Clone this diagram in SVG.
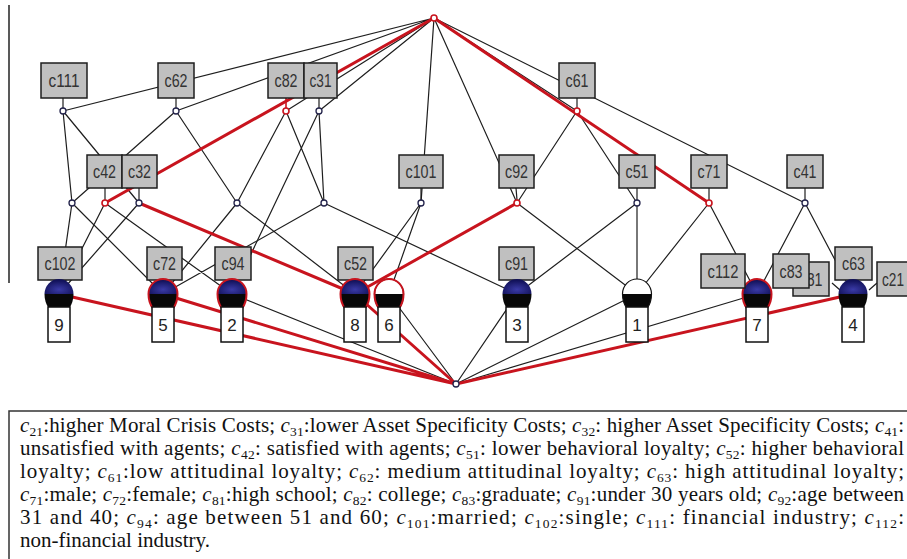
<svg xmlns="http://www.w3.org/2000/svg" xmlns:xlink="http://www.w3.org/1999/xlink" width="907" height="559" viewBox="0 0 907 559">
<style>
.e{stroke:#1e1e1e;stroke-width:1.2;fill:none}
.r{stroke:#c8141e;stroke-width:3;fill:none;stroke-linecap:round}
.lb rect{fill:#c0c0c0;stroke:#1e1e1e;stroke-width:1.5}
.lb text{font-family:"Liberation Sans",Arial,sans-serif;font-size:18px;fill:#333;text-anchor:middle}
.tk{stroke:#1e1e1e;stroke-width:1.2}
.tkr{stroke:#c8141e;stroke-width:1.6}
.sn{fill:#fff;stroke:#22224a;stroke-width:1.3}
.snr{fill:#fff;stroke:#c8141e;stroke-width:1.6}
.nb rect{fill:#fff;stroke:#111;stroke-width:1.5}
.nb text{font-family:"Liberation Sans",Arial,sans-serif;font-size:17px;fill:#222;text-anchor:middle}
.ro{fill:none;stroke:#c8141e;stroke-width:2}
.cap{font-family:"Liberation Serif","Times New Roman",serif;font-size:21px;fill:#111}
.ci{font-style:italic}
.sb{font-size:13.5px}
</style>
<defs>
<radialGradient id="bl" cx="50%" cy="70%" r="60%">
<stop offset="0" stop-color="#3a3aa6"/>
<stop offset="1" stop-color="#12125a"/>
</radialGradient>
<g id="objB">
<path d="M-14.5,0 A14.5,15 0 0 1 14.5,0 Z" fill="url(#bl)"/>
<path d="M-14.5,0 A14.5,20 0 0 0 14.5,0 Z" fill="#080808"/>
</g>
<g id="objW">
<path d="M-14.5,0 A14.5,15 0 0 1 14.5,0 Z" fill="#fff"/>
<path d="M-14.5,0 A14.5,20 0 0 0 14.5,0 Z" fill="#080808"/>
<path d="M-14.5,0 A14.5,15 0 0 1 14.5,0 A14.5,20 0 0 1 -14.5,0 Z" fill="none" stroke="#111" stroke-width="1.2"/>
</g>
<path id="ring" d="M-14.5,0 A14.5,15 0 0 1 14.5,0 A14.5,20 0 0 1 -14.5,0 Z"/>
</defs>
<rect width="907" height="559" fill="#fff"/>
<line x1="9" y1="5" x2="9" y2="283" stroke="#222" stroke-width="1.5"/>
<g id="connectors">
<path class="e" d="M434,18 L63,111 M434,18 L176,111 M434,18 L286,111 M434,18 L319,111 M434,18 L577,111 M434,18 L421,203 M434,18 L517,203 M434,18 L805,203"/>
<path class="e" d="M63,111 L72,203 M63,111 L139,203 M176,111 L72,203 M176,111 L237,203 M286,111 L237,203 M286,111 L324,203 M319,111 L324,203 M319,111 L232,294 M577,111 L517,203 M577,111 L637,203"/>
<path class="e" d="M72,203 L59,294 M72,203 L163,294 M105,203 L59,294 M105,203 L232,294 M139,203 L59,294 M237,203 L163,294 M237,203 L355,294 M324,203 L163,294 M324,203 L517,294 M421,203 L355,294 M421,203 L389,294 M517,203 L637,294 M637,203 L637,294 M637,203 L517,294 M709,203 L637,294 M709,203 L757,294 M805,203 L757,294 M805,203 L853,294"/>
<path class="e" d="M232,294 L456,384 M389,294 L456,384 M517,294 L456,384 M637,294 L456,384 M757,294 L456,384"/>
<path class="e" d="M832,283 L840,290 M877,283 L869,290"/>
<path class="r" d="M434,18 L105,203 M434,18 L709,203 M139,203 L355,294 M517,203 L355,294 M59,294 L456,384 M163,294 L456,384 M355,294 L456,384 M853,294 L456,384"/>
</g>
<g id="top"><circle class="snr" cx="434" cy="18" r="3"/></g>
<g id="bottom"><circle class="sn" cx="456" cy="384" r="3"/></g>
<g id="node-c111" class="lb"><line class="tk" x1="63" y1="98" x2="63" y2="108"/><circle class="sn" cx="63" cy="111" r="3"/><rect x="41" y="63" width="46" height="35"/><text x="64" y="87" textLength="31" lengthAdjust="spacingAndGlyphs">c111</text></g>
<g id="node-c62" class="lb"><line class="tk" x1="176" y1="98" x2="176" y2="108"/><circle class="sn" cx="176" cy="111" r="3"/><rect x="158" y="63" width="36" height="35"/><text x="176" y="87" textLength="23" lengthAdjust="spacingAndGlyphs">c62</text></g>
<g id="node-c82" class="lb"><line class="tkr" x1="286" y1="98" x2="286" y2="108"/><circle class="snr" cx="286" cy="111" r="3"/><rect x="268" y="63" width="36" height="35"/><text x="286" y="87" textLength="23" lengthAdjust="spacingAndGlyphs">c82</text></g>
<g id="node-c31" class="lb"><line class="tk" x1="319" y1="98" x2="319" y2="108"/><circle class="sn" cx="319" cy="111" r="3"/><rect x="304" y="63" width="33" height="35"/><text x="320.5" y="87" textLength="22" lengthAdjust="spacingAndGlyphs">c31</text></g>
<g id="node-c61" class="lb"><line class="tk" x1="577" y1="98" x2="577" y2="108"/><circle class="snr" cx="577" cy="111" r="3"/><rect x="559" y="63" width="36" height="35"/><text x="577" y="87" textLength="23" lengthAdjust="spacingAndGlyphs">c61</text></g>
<g id="node-b1"><circle class="sn" cx="72" cy="203" r="3"/></g>
<g id="node-c42" class="lb"><line class="tk" x1="105" y1="188" x2="105" y2="200"/><circle class="snr" cx="105" cy="203" r="3"/><rect x="87" y="155" width="35" height="33"/><text x="104.5" y="178" textLength="23" lengthAdjust="spacingAndGlyphs">c42</text></g>
<g id="node-c32" class="lb"><line class="tk" x1="139" y1="188" x2="139" y2="200"/><circle class="sn" cx="139" cy="203" r="3"/><rect x="122" y="155" width="35" height="33"/><text x="139.5" y="178" textLength="23" lengthAdjust="spacingAndGlyphs">c32</text></g>
<g id="node-b4"><circle class="sn" cx="237" cy="203" r="3"/></g>
<g id="node-b5"><circle class="sn" cx="324" cy="203" r="3"/></g>
<g id="node-c101" class="lb"><line class="tk" x1="421" y1="188" x2="421" y2="200"/><circle class="sn" cx="421" cy="203" r="3"/><rect x="399" y="155" width="44" height="33"/><text x="421" y="178" textLength="31" lengthAdjust="spacingAndGlyphs">c101</text></g>
<g id="node-c92" class="lb"><line class="tk" x1="516" y1="188" x2="517" y2="200"/><circle class="snr" cx="517" cy="203" r="3"/><rect x="499" y="155" width="35" height="33"/><text x="516.5" y="178" textLength="23" lengthAdjust="spacingAndGlyphs">c92</text></g>
<g id="node-c51" class="lb"><line class="tk" x1="637" y1="188" x2="637" y2="200"/><circle class="sn" cx="637" cy="203" r="3"/><rect x="619" y="155" width="36" height="33"/><text x="637" y="178" textLength="23" lengthAdjust="spacingAndGlyphs">c51</text></g>
<g id="node-c71" class="lb"><line class="tk" x1="709" y1="188" x2="709" y2="200"/><circle class="snr" cx="709" cy="203" r="3"/><rect x="691" y="155" width="36" height="33"/><text x="709" y="178" textLength="23" lengthAdjust="spacingAndGlyphs">c71</text></g>
<g id="node-c41" class="lb"><line class="tk" x1="805" y1="188" x2="805" y2="200"/><circle class="sn" cx="805" cy="203" r="3"/><rect x="787" y="155" width="36" height="33"/><text x="805" y="178" textLength="23" lengthAdjust="spacingAndGlyphs">c41</text></g>
<g id="obj-9"><g class="lb"><rect x="38" y="247" width="44" height="33"/><text x="60" y="270" textLength="31" lengthAdjust="spacingAndGlyphs">c102</text></g><use xlink:href="#objB" x="59" y="294"/><g class="nb"><rect x="48" y="307" width="22" height="35"/><text x="59" y="331">9</text></g></g>
<g id="obj-5"><g class="lb"><rect x="147" y="247" width="35" height="33"/><text x="164.5" y="270" textLength="23" lengthAdjust="spacingAndGlyphs">c72</text></g><use xlink:href="#objB" x="163" y="294"/><use xlink:href="#ring" x="163" y="294" class="ro"/><g class="nb"><rect x="152" y="307" width="22" height="35"/><text x="163" y="331">5</text></g></g>
<g id="obj-2"><g class="lb"><rect x="215" y="247" width="36" height="33"/><text x="233" y="270" textLength="23" lengthAdjust="spacingAndGlyphs">c94</text></g><use xlink:href="#objB" x="232" y="294"/><use xlink:href="#ring" x="232" y="294" class="ro"/><g class="nb"><rect x="221" y="307" width="22" height="35"/><text x="232" y="331">2</text></g></g>
<g id="obj-8"><g class="lb"><rect x="338" y="247" width="35" height="33"/><text x="355.5" y="270" textLength="23" lengthAdjust="spacingAndGlyphs">c52</text></g><use xlink:href="#objB" x="355" y="294"/><use xlink:href="#ring" x="355" y="294" class="ro"/><g class="nb"><rect x="344" y="307" width="22" height="35"/><text x="355" y="331">8</text></g></g>
<g id="obj-6"><use xlink:href="#objW" x="389" y="294"/><use xlink:href="#ring" x="389" y="294" class="ro"/><g class="nb"><rect x="378" y="307" width="22" height="35"/><text x="389" y="331">6</text></g></g>
<g id="obj-3"><g class="lb"><rect x="499" y="247" width="35" height="33"/><text x="516.5" y="270" textLength="23" lengthAdjust="spacingAndGlyphs">c91</text></g><use xlink:href="#objB" x="517" y="294"/><g class="nb"><rect x="506" y="307" width="22" height="35"/><text x="517" y="331">3</text></g></g>
<g id="obj-1"><use xlink:href="#objW" x="637" y="294"/><g class="nb"><rect x="626" y="307" width="22" height="35"/><text x="637" y="331">1</text></g></g>
<g id="obj-7"><use xlink:href="#objB" x="757" y="294"/><use xlink:href="#ring" x="757" y="294" class="ro"/><g class="lb"><rect x="701" y="254" width="44" height="34"/><text x="723" y="277.5" textLength="31" lengthAdjust="spacingAndGlyphs">c112</text></g><g class="lb"><rect x="793" y="262" width="36" height="34"/><text x="811" y="285.5" textLength="23" lengthAdjust="spacingAndGlyphs">c81</text></g><g class="lb"><rect x="773" y="254" width="36" height="34"/><text x="791" y="277.5" textLength="23" lengthAdjust="spacingAndGlyphs">c83</text></g><g class="nb"><rect x="746" y="307" width="22" height="35"/><text x="757" y="331">7</text></g></g>
<g id="obj-4"><g class="lb"><rect x="835" y="247" width="37" height="33"/><text x="853.5" y="270" textLength="23" lengthAdjust="spacingAndGlyphs">c63</text></g><g class="lb"><rect x="877" y="262" width="40" height="34"/><text x="893" y="285.5" textLength="22" lengthAdjust="spacingAndGlyphs">c21</text></g><use xlink:href="#objB" x="853" y="294"/><g class="nb"><rect x="842" y="307" width="22" height="35"/><text x="853" y="331">4</text></g></g>
<g id="caption">
<rect x="9" y="411" width="910" height="170" fill="#fff" stroke="#333" stroke-width="1.5"/>
<text class="cap" x="20" y="432" textLength="884" lengthAdjust="spacing"><tspan class="ci">c</tspan><tspan class="sb" dy="4">21</tspan><tspan dy="-4">:higher Moral Crisis Costs; </tspan><tspan class="ci">c</tspan><tspan class="sb" dy="4">31</tspan><tspan dy="-4">:lower Asset Specificity Costs; </tspan><tspan class="ci">c</tspan><tspan class="sb" dy="4">32</tspan><tspan dy="-4">: higher Asset Specificity Costs; </tspan><tspan class="ci">c</tspan><tspan class="sb" dy="4">41</tspan><tspan dy="-4">:</tspan></text>
<text class="cap" x="20" y="455" textLength="884" lengthAdjust="spacing">unsatisfied with agents; <tspan class="ci">c</tspan><tspan class="sb" dy="4">42</tspan><tspan dy="-4">: satisfied with agents; </tspan><tspan class="ci">c</tspan><tspan class="sb" dy="4">51</tspan><tspan dy="-4">: lower behavioral loyalty; </tspan><tspan class="ci">c</tspan><tspan class="sb" dy="4">52</tspan><tspan dy="-4">: higher behavioral</tspan></text>
<text class="cap" x="20" y="478" textLength="884" lengthAdjust="spacing">loyalty; <tspan class="ci">c</tspan><tspan class="sb" dy="4">61</tspan><tspan dy="-4">:low attitudinal loyalty; </tspan><tspan class="ci">c</tspan><tspan class="sb" dy="4">62</tspan><tspan dy="-4">: medium attitudinal loyalty; </tspan><tspan class="ci">c</tspan><tspan class="sb" dy="4">63</tspan><tspan dy="-4">: high attitudinal loyalty;</tspan></text>
<text class="cap" x="20" y="501" textLength="884" lengthAdjust="spacing"><tspan class="ci">c</tspan><tspan class="sb" dy="4">71</tspan><tspan dy="-4">:male; </tspan><tspan class="ci">c</tspan><tspan class="sb" dy="4">72</tspan><tspan dy="-4">:female; </tspan><tspan class="ci">c</tspan><tspan class="sb" dy="4">81</tspan><tspan dy="-4">:high school; </tspan><tspan class="ci">c</tspan><tspan class="sb" dy="4">82</tspan><tspan dy="-4">: college; </tspan><tspan class="ci">c</tspan><tspan class="sb" dy="4">83</tspan><tspan dy="-4">:graduate; </tspan><tspan class="ci">c</tspan><tspan class="sb" dy="4">91</tspan><tspan dy="-4">:under 30 years old; </tspan><tspan class="ci">c</tspan><tspan class="sb" dy="4">92</tspan><tspan dy="-4">:age between</tspan></text>
<text class="cap" x="20" y="524" textLength="884" lengthAdjust="spacing">31 and 40; <tspan class="ci">c</tspan><tspan class="sb" dy="4">94</tspan><tspan dy="-4">: age between 51 and 60; </tspan><tspan class="ci">c</tspan><tspan class="sb" dy="4">101</tspan><tspan dy="-4">:married; </tspan><tspan class="ci">c</tspan><tspan class="sb" dy="4">102</tspan><tspan dy="-4">:single; </tspan><tspan class="ci">c</tspan><tspan class="sb" dy="4">111</tspan><tspan dy="-4">: financial industry; </tspan><tspan class="ci">c</tspan><tspan class="sb" dy="4">112</tspan><tspan dy="-4">:</tspan></text>
<text class="cap" x="20" y="547">non-financial industry.</text>
</g>
</svg>
